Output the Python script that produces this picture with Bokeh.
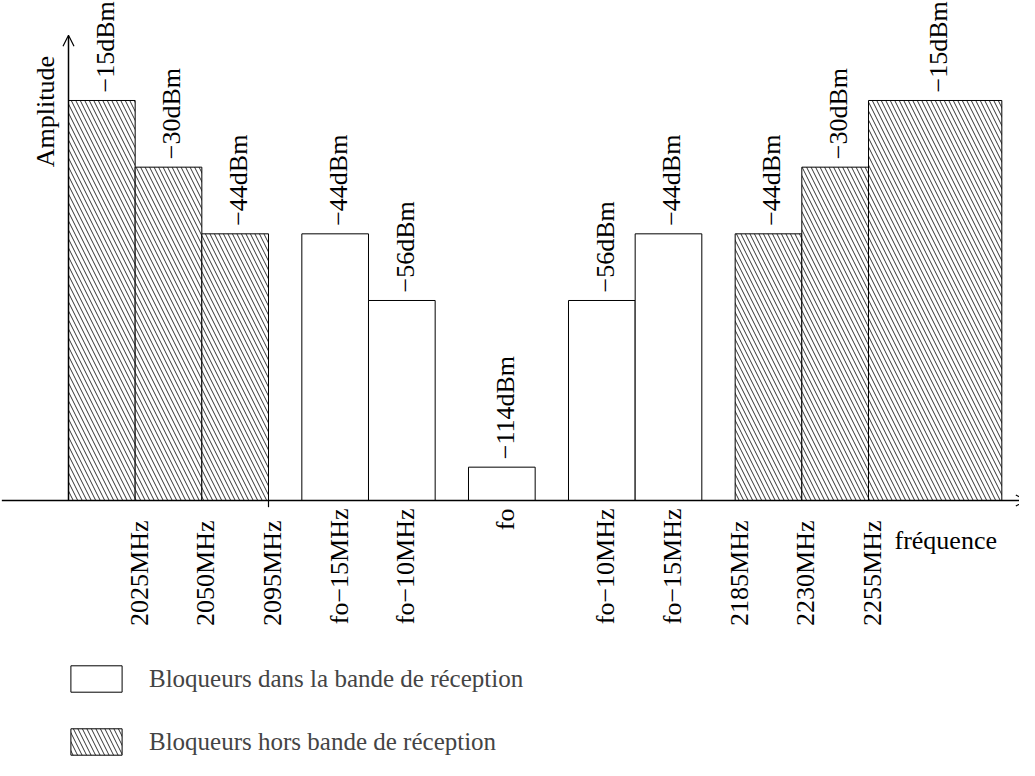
from bokeh.plotting import figure
from bokeh.models import ColumnDataSource, Arrow, OpenHead, Legend, LegendItem, Range1d
from bokeh.core.properties import value
from bokeh.embed import file_html
from bokeh.resources import INLINE
import math

# ---- data (schematic frequency plan) ----
left_edges = [0, 2, 4, 7, 9, 12, 15, 17, 20, 22, 24]
widths = [2, 2, 2, 2, 2, 2, 2, 2, 2, 2, 4]
levels = [6, 5, 4, 4, 3, 0.5, 3, 4, 4, 5, 6]          # schematic amplitude
power_labels = ["−15dBm", "−30dBm", "−44dBm", "−44dBm", "−56dBm", "−114dBm",
                "−56dBm", "−44dBm", "−44dBm", "−30dBm", "−15dBm"]
in_band = [False, False, False, True, True, True, True, True, False, False, False]

freq_pos = [2, 4, 6, 8, 10, 13, 16, 18, 20, 22, 24]
freq_labels = ["2025MHz", "2050MHz", "2095MHz", "fo−15MHz", "fo−10MHz", "fo",
               "fo−10MHz", "fo−15MHz", "2185MHz", "2230MHz", "2255MHz"]
freq_relative = [False, False, False, True, True, True, True, True, False, False, False]
tick_pos = [6]

legend_labels = ["Bloqueurs dans la bande de réception", "Bloqueurs hors bande de réception"]

FONT = "Liberation Serif"
W, H = 1019, 760
UX, UY = 33.333, 66.667

p = figure(width=W, height=H, output_backend="svg", toolbar_location=None,
           x_axis_type=None, y_axis_type=None, min_border=0)
p.x_range = Range1d(-68 / UX, -68 / UX + W / UX)
p.y_range = Range1d(500 / UY - H / UY, 500 / UY)
p.grid.visible = False
p.outline_line_color = None
p.background_fill_color = "white"

def bars(mask):
    idx = [i for i in range(len(levels)) if mask(i)]
    return ColumnDataSource(dict(
        left=[left_edges[i] for i in idx],
        right=[left_edges[i] + widths[i] for i in idx],
        top=[levels[i] for i in idx],
        bottom=[0] * len(idx),
    ))

r_in = p.quad(left="left", right="right", top="top", bottom="bottom",
              source=bars(lambda i: in_band[i]),
              fill_color="white", line_color="black", line_width=1)
r_out = p.quad(left="left", right="right", top="top", bottom="bottom",
               source=bars(lambda i: not in_band[i]),
               fill_color="white", line_color="black", line_width=1,
               hatch_pattern="\\", hatch_color="black", hatch_scale=9, hatch_weight=0.8)

# power labels above bars
p.text(x=[left_edges[i] + widths[i] / 2 + 0.1 for i in range(len(levels))],
       y=[levels[i] + 0.12 for i in range(len(levels))],
       text=power_labels, angle=math.pi / 2,
       text_font=value(FONT), text_font_size="26px",
       text_align="left", text_baseline="middle", text_color="black")

# frequency labels below axis
p.text(x=[x + 0.12 for x in freq_pos],
       y=[-0.12 if rel else -0.3 for rel in freq_relative],
       text=freq_labels, angle=math.pi / 2,
       text_font=value(FONT), text_font_size="26px",
       text_align="right", text_baseline="middle", text_color="black")

# small tick
p.segment(x0=tick_pos, y0=[0] * len(tick_pos), x1=tick_pos, y1=[-0.1] * len(tick_pos),
          line_color="black", line_width=1.2)

# axes with arrows
p.add_layout(Arrow(end=OpenHead(size=11, line_width=1.2, line_color="black"),
                   x_start=-2, y_start=0, x_end=28.75, y_end=0,
                   line_width=1.5, line_color="black"))
p.add_layout(Arrow(end=OpenHead(size=11, line_width=1.2, line_color="black"),
                   x_start=0, y_start=0, x_end=0, y_end=6.98,
                   line_width=1.5, line_color="black"))

p.text(x=[-0.69], y=[5.0], text=["Amplitude"], angle=math.pi / 2,
       text_font=value(FONT), text_font_size="26px",
       text_align="left", text_baseline="middle", text_color="black")
p.text(x=[24.78], y=[-0.6], text=["fréquence"],
       text_font=value(FONT), text_font_size="26px",
       text_align="left", text_baseline="alphabetic", text_color="black")

legend = Legend(items=[LegendItem(label=legend_labels[0], renderers=[r_in]),
                       LegendItem(label=legend_labels[1], renderers=[r_out])],
                location=(64, 2), orientation="vertical",
                glyph_width=64, glyph_height=33, label_height=33, spacing=30,
                padding=0, margin=0, label_standoff=21,
                label_text_font=FONT, label_text_font_size="25px",
                label_text_baseline="middle", border_line_color=None,
                background_fill_alpha=0)
p.add_layout(legend, "center")

open("out.html", "w").write(file_html(p, INLINE))
